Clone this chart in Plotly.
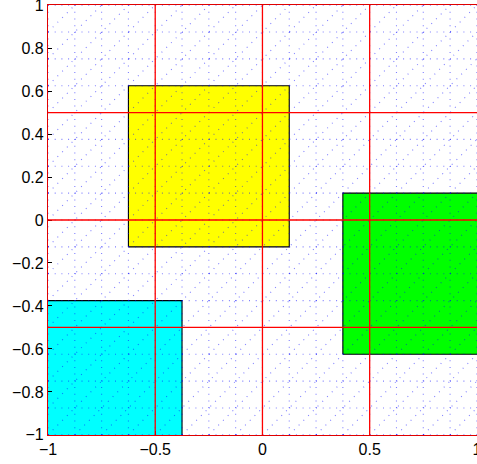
import plotly.graph_objects as go

# mesh node coordinates (triangular mesh, spacing 1/8)
mesh_nodes = [-1.0, -0.875, -0.75, -0.625, -0.5, -0.375, -0.25, -0.125, 0.0,
              0.125, 0.25, 0.375, 0.5, 0.625, 0.75, 0.875, 1.0]

# coloured square patches
patch_colors = ["#ffff00", "#00ff00", "#00ffff"]
patch_x0 = [-0.625, 0.375, -1.125]
patch_x1 = [0.125, 1.125, -0.375]
patch_y0 = [-0.125, -0.625, -1.125]
patch_y1 = [0.625, 0.125, -0.375]

# red grid lines
grid_vals = [-0.5, 0.0, 0.5]

x_ticks = [-1, -0.5, 0, 0.5, 1]
x_tick_text = ["\u22121", "\u22120.5", "0", "0.5", "1"]
y_ticks = [-1, -0.8, -0.6, -0.4, -0.2, 0, 0.2, 0.4, 0.6, 0.8, 1]
y_tick_text = ["\u22121", "\u22120.8", "\u22120.6", "\u22120.4", "\u22120.2", "0",
               "0.2", "0.4", "0.6", "0.8", "1"]

fig = go.Figure()

for c, x0, x1, y0, y1 in zip(patch_colors, patch_x0, patch_x1, patch_y0, patch_y1):
    fig.add_trace(go.Scatter(
        x=[x0, x1, x1, x0, x0], y=[y0, y0, y1, y1, y0],
        mode="lines", fill="toself", fillcolor=c,
        line=dict(color="black", width=1.1), hoverinfo="skip", showlegend=False))

# mesh edges (dotted)
lo, hi = mesh_nodes[0], mesh_nodes[-1]
mx, my = [], []
for v in mesh_nodes:
    mx += [lo, hi, None]; my += [v, v, None]
    mx += [v, v, None]; my += [lo, hi, None]
for v in mesh_nodes:
    c = v - lo  # offset
    for cc in (c, -c) if c != 0 else (0.0,):
        if cc >= 0:
            mx += [lo, hi - cc, None]; my += [lo + cc, hi, None]
        else:
            mx += [lo - cc, hi, None]; my += [lo, hi + cc, None]
fig.add_trace(go.Scatter(x=mx, y=my, mode="lines",
                         line=dict(color="rgba(0,0,255,0.5)", width=1.1, dash="1px,5.7px"),
                         hoverinfo="skip", showlegend=False))

shapes = []
for g in grid_vals:
    shapes.append(dict(type="line", xref="x", yref="paper", x0=g, x1=g, y0=0, y1=1,
                       line=dict(color="red", width=1.3), layer="above"))
    shapes.append(dict(type="line", xref="paper", yref="y", x0=0, x1=1, y0=g, y1=g,
                       line=dict(color="red", width=1.3), layer="above"))

axis_common = dict(showgrid=False, zeroline=False, showline=True, linecolor="#e00000",
                   linewidth=1.3, mirror=True, ticks="inside", ticklen=4,
                   tickcolor="black", tickwidth=1, ticklabeloverflow="allow",
                   automargin=False,
                   tickfont=dict(family="Liberation Sans, Arial, sans-serif", size=16, color="black"))

fig.update_layout(
    width=477, height=464,
    margin=dict(l=48, r=0, t=5, b=29, autoexpand=False),
    plot_bgcolor="white", paper_bgcolor="white",
    shapes=shapes,
    xaxis=dict(range=[-1, 1.0005], tickvals=x_ticks, ticktext=x_tick_text, **axis_common),
    yaxis=dict(range=[-1.0005, 1.0005], tickvals=y_ticks, ticktext=y_tick_text, **axis_common),
)

fig.write_html("out.html")
